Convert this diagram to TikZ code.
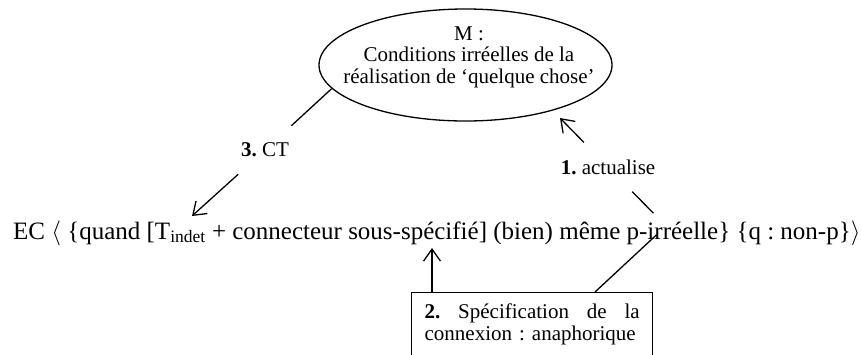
\documentclass[tikz,border=0pt]{standalone}
\usepackage{fontspec}
\setmainfont{Liberation Serif}
\usetikzlibrary{shapes.geometric,arrows.meta,calc}
\tikzset{
  conn/.style={line width=1.3pt},
  arr/.style={conn, -{Straight Barb[length=12pt,width=17pt]}},
  lab/.style={font=\fontsize{21}{22}\selectfont, inner sep=17pt},
}
\begin{document}
\frenchspacing
\begin{tikzpicture}[x=1pt,y=-1pt]
\useasboundingbox (0,0) rectangle (861,354);
\clip (0,0) rectangle (861,354);
\node[ellipse, draw, line width=1.3pt, minimum width=293pt, minimum height=112pt, inner sep=0pt] (ell) at (465.5,65) {};
\node[align=center, font=\fontsize{21}{21.5}\selectfont\frenchspacing, inner sep=0pt] (elltext) at (469,57) {M :\\Conditions irréelles de la\\réalisation de ‘quelque chose’};
\node[anchor=base west, inner sep=0pt, font=\fontsize{25}{30}\selectfont\frenchspacing] (main) at (13,239) {EC $\langle$ \{quand [T\textsubscript{indet} + connecteur sous-spécifié] (bien) même p-irréelle\} \{q : non-p\}$\rangle$};
\node[draw, conn, anchor=north west, text width=215pt, inner xsep=13pt, inner ysep=11.5pt, font=\fontsize{21}{22}\selectfont\frenchspacing, align=left] (box) at (411,292) {\hbox to 215pt{\textbf{2.}\hfill Spécification\hfill de\hfill la}\\connexion : anaphorique\rule[-20pt]{0pt}{0pt}};
\coordinate (v) at (666,226);
\coordinate (tip1) at (560,118);
\coordinate (tip2) at (432,248);
\coordinate (b1) at (432,292);
\coordinate (b2) at (595,292);
\coordinate (tip3) at (192,216);
\node[lab, font=\fontsize{21}{22}\selectfont\frenchspacing] (lab3) at (265,150) {\textbf{3.} CT};
\node[lab, font=\fontsize{21}{22}\selectfont\frenchspacing] (lab1) at (608,167) {\textbf{1.} actualise};
\draw[conn] (ell.190) -- (lab3);
\draw[arr] (lab3) -- (tip3);
\draw[conn, shorten <=18pt] (v) -- (lab1);
\draw[arr] (lab1) -- (tip1);
\draw[conn, shorten >=13pt] (b2) -- (v);
\draw[arr] (b1) -- (tip2);
\end{tikzpicture}
\end{document}
